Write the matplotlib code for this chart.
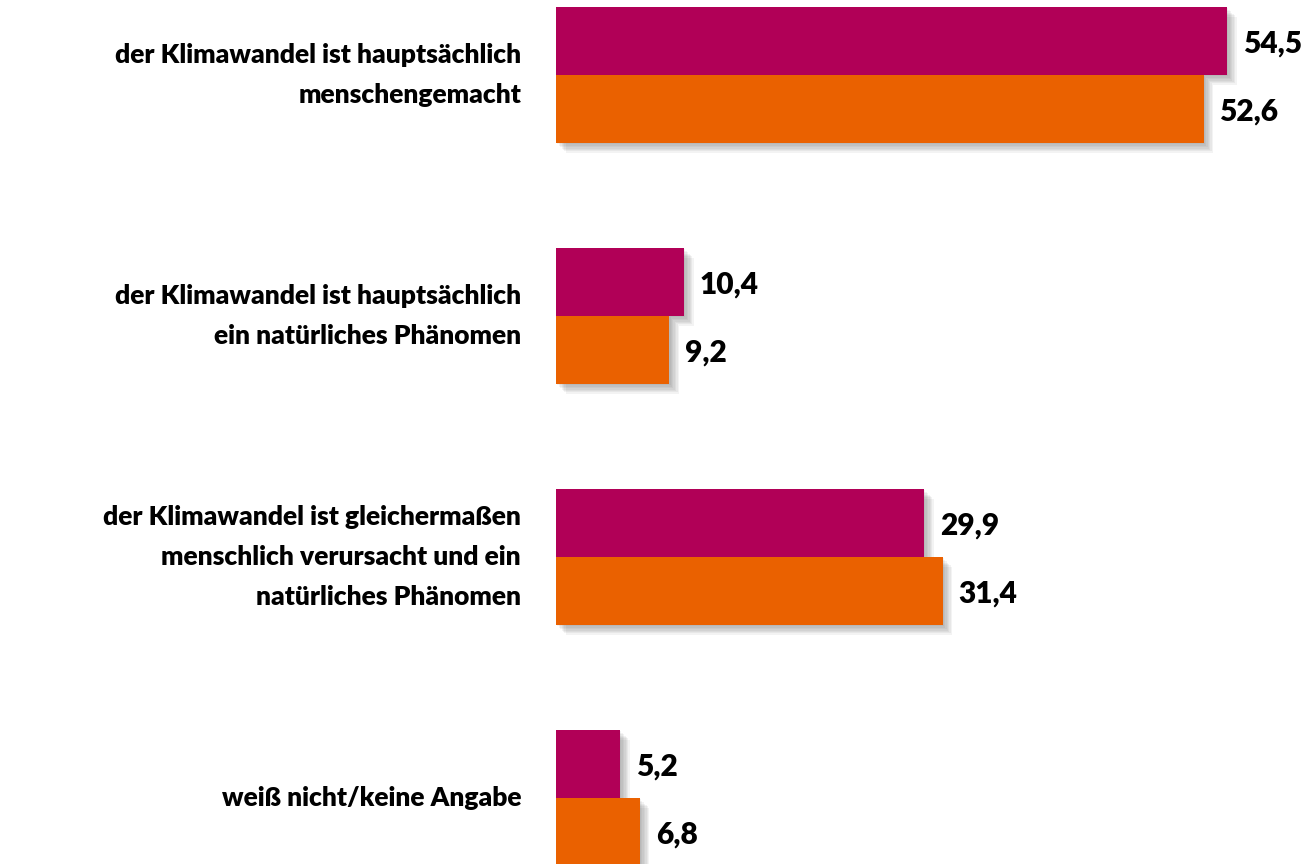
import matplotlib
matplotlib.use("Agg")
import matplotlib.pyplot as plt
import matplotlib.patheffects as pe

categories = [
    "der Klimawandel ist hauptsächlich\nmenschengemacht",
    "der Klimawandel ist hauptsächlich\nein natürliches Phänomen",
    "der Klimawandel ist gleichermaßen\nmenschlich verursacht und ein\nnatürliches Phänomen",
    "weiß nicht/keine Angabe",
]
series_a = [54.5, 10.4, 29.9, 5.2]
series_b = [52.6, 9.2, 31.4, 6.8]
labels_a = ["54,5", "10,4", "29,9", "5,2"]
labels_b = ["52,6", "9,2", "31,4", "6,8"]

col_a = "#B10057"
col_b = "#EA6100"

plt.rcParams['font.family'] = ['Lato', 'DejaVu Sans']

W, H = 1308, 864
fig = plt.figure(figsize=(W / 100, H / 100), dpi=100)
x0 = 556
ax = fig.add_axes([x0 / W, 0, 1 - x0 / W, 1])
px = 12.31  # pixels per unit
ax.set_xlim(0, (W - x0) / px)
step = 241.0
c0 = 75.0
ax.set_ylim((H - c0) / step, (0 - c0) / step)
h = 68 / step

# soft drop shadow: several faint offset copies
shadow = [pe.SimplePatchShadow(offset=(k, -k), shadow_rgbFace='#555555', alpha=0.07)
          for k in range(1, 8)] + [pe.Normal()]

for i in range(len(categories)):
    ba = ax.barh(i - h / 2, series_a[i], height=h, color=col_a, zorder=2)
    bb = ax.barh(i + h / 2, series_b[i], height=h, color=col_b, zorder=2)
    for b in list(ba) + list(bb):
        b.set_path_effects(shadow)
    ax.text(series_a[i] + 1.3, i - h / 2 + 0.01, labels_a[i], ha='left', va='center',
            fontsize=21.5, fontweight='heavy', color='black')
    ax.text(series_b[i] + 1.3, i + h / 2 + 0.01, labels_b[i], ha='left', va='center',
            fontsize=21.5, fontweight='heavy', color='black')
    ax.text(-35 / px, i, categories[i], ha='right', va='center', fontsize=19,
            fontweight='heavy', color='black', linespacing=1.8, clip_on=False)

ax.axis('off')
fig.savefig("out.png", dpi=100)
